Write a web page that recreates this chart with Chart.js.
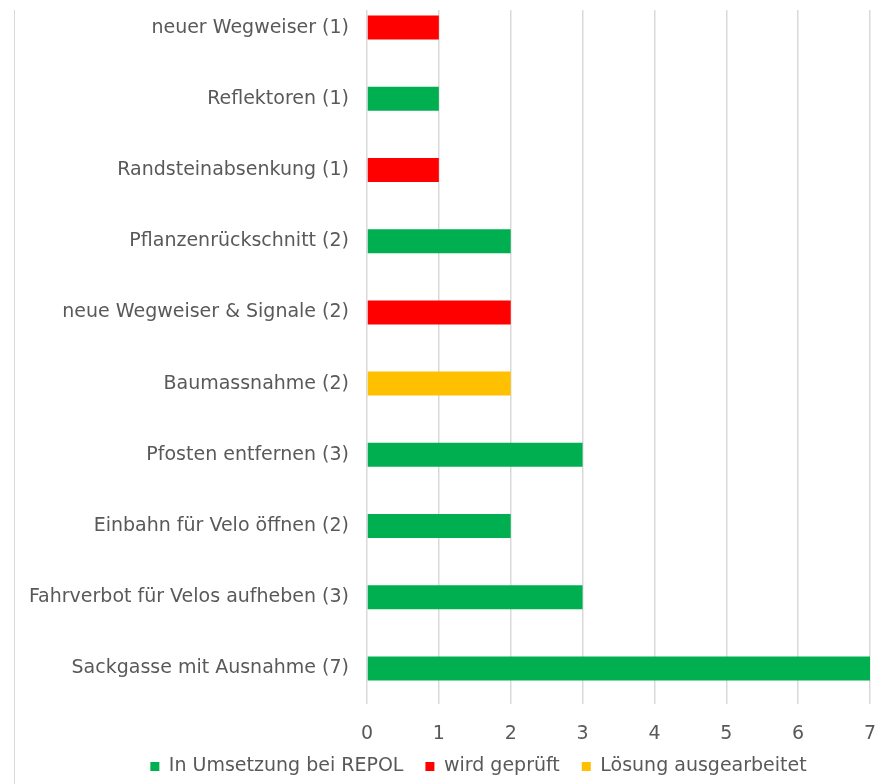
<!DOCTYPE html>
<html>
<head>
<meta charset="utf-8">
<script src="https://cdn.jsdelivr.net/npm/chart.js@4"></script>
<style>
  html, body { margin: 0; padding: 0; background: #fff; overflow: hidden; }
  #frame {
    position: absolute;
    left: 14px;
    top: 10px;
    width: 863px;
    height: 774px;
    overflow: hidden;
    border-left: 1px solid #d9d9d9;
  }
  #box {
    position: absolute;
    left: 0;
    top: -18px;
    width: 863px;
    height: 794px;
  }
</style>
</head>
<body>
<div id="frame">
  <div id="box"><canvas id="massnahmenChart"></canvas></div>
</div>
<script>
const categories = [
  'neuer Wegweiser (1)',
  'Reflektoren (1)',
  'Randsteinabsenkung (1)',
  'Pflanzenrückschnitt (2)',
  'neue Wegweiser & Signale (2)',
  'Baumassnahme (2)',
  'Pfosten entfernen (3)',
  'Einbahn für Velo öffnen (2)',
  'Fahrverbot für Velos aufheben (3)',
  'Sackgasse mit Ausnahme (7)'
];

// one value per category, null where the status does not apply
const inUmsetzung = [null, 1, null, 2, null, null, 3, 2, 3, 7];
const wirdGeprueft = [1, null, 1, null, 2, null, null, null, null, null];
const loesungAusgearbeitet = [null, null, null, null, null, 2, null, null, null, null];

const xTicks = [0, 1, 2, 3, 4, 5, 6, 7];

const textColor = '#595959';
const gridColor = '#d9d9d9';
const fontFamily = '"DejaVu Sans", Verdana, sans-serif';
const fontSize = 19;

// x labels sit lower than the thin axis box, so widen the label clip area,
// and nudge the legend row a bit to the right, under the bars
const layoutTweaks = {
  id: 'layoutTweaks',
  afterLayout(chart) {
    chart.scales.x.bottom = chart.height;
    chart.legend.left += 36;
    chart.legend.right += 36;
  }
};

const ctx = document.getElementById('massnahmenChart').getContext('2d');

new Chart(ctx, {
  type: 'bar',
  data: {
    labels: categories,
    datasets: [
      {
        label: 'In Umsetzung bei REPOL',
        data: inUmsetzung,
        backgroundColor: '#00B050'
      },
      {
        label: 'wird geprüft',
        data: wirdGeprueft,
        backgroundColor: '#FF0000'
      },
      {
        label: 'Lösung ausgearbeitet',
        data: loesungAusgearbeitet,
        backgroundColor: '#FFC000'
      }
    ]
  },
  plugins: [layoutTweaks],
  options: {
    indexAxis: 'y',
    responsive: true,
    maintainAspectRatio: false,
    animation: false,
    layout: {
      padding: { top: 0, right: 8, bottom: 0, left: 0 }
    },
    datasets: {
      bar: {
        barPercentage: 1,
        categoryPercentage: 0.337,
        borderWidth: 0
      }
    },
    plugins: {
      tooltip: { enabled: false },
      legend: {
        position: 'bottom',
        labels: {
          color: textColor,
          font: { family: fontFamily, size: fontSize },
          boxWidth: 9,
          boxHeight: 9,
          padding: 22
        }
      }
    },
    scales: {
      x: {
        stacked: true,
        min: 0,
        max: 7,
        afterBuildTicks: (axis) => {
          axis.ticks = xTicks.map(v => ({ value: v }));
        },
        afterFit: (axis) => {
          axis.height = 31;
          axis.paddingLeft = 0;
          axis.paddingRight = 0;
        },
        grid: {
          color: gridColor,
          lineWidth: 1.5,
          drawTicks: false
        },
        border: { display: false },
        ticks: {
          color: textColor,
          font: { family: fontFamily, size: fontSize },
          padding: 19
        }
      },
      y: {
        stacked: true,
        afterFit: (axis) => {
          axis.width = 352;
          axis.paddingTop = 0;
          axis.paddingBottom = 0;
        },
        grid: { display: false, drawTicks: false },
        border: { display: false },
        ticks: {
          color: textColor,
          font: { family: fontFamily, size: fontSize },
          padding: 18
        }
      }
    }
  }
});
</script>
</body>
</html>
